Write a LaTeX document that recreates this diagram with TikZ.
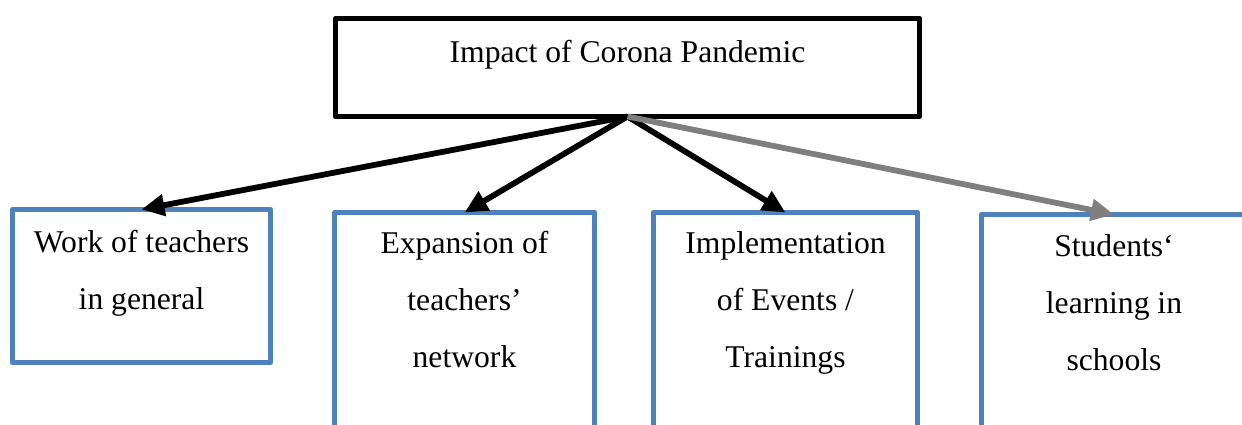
\documentclass[tikz,border=0pt]{standalone}
\usepackage{fontspec}
\setmainfont{Liberation Serif}
\usetikzlibrary{arrows.meta, positioning}
\definecolor{boxblue}{HTML}{4F81BD}
\definecolor{arrgrey}{HTML}{7F7F7F}

\begin{document}
\begin{tikzpicture}[
  box/.style={draw, line width=3.1pt, line join=round, outer sep=0pt, anchor=north west},
  sub/.style={box, draw=boxblue},
  txt/.style={align=center, inner sep=0pt, font=\fontsize{18}{32.4}\selectfont},
  arr/.style={-{Triangle[length=4.6mm, width=4.2mm]}, line width=3.3pt}
]
\useasboundingbox (0,0) rectangle (24.84,-8.48);
\clip (0,0) rectangle (24.84,-8.48);
\node[box, minimum width=11.68cm, minimum height=1.96cm] (impact) at (6.71,-0.37) {};
\node[sub, minimum width=5.16cm, minimum height=3.06cm] (work) at (0.25,-4.19) {};
\node[sub, minimum width=5.2cm, minimum height=4.6cm] (network) at (6.69,-4.25) {};
\node[sub, minimum width=5.28cm, minimum height=4.6cm] (events) at (13.07,-4.25) {};
\node[sub, minimum width=5.3cm, minimum height=4.6cm] (students) at (19.63,-4.29) {};

\node[txt, below=0.07cm of impact.north] (timpact) {\strut Impact of Corona Pandemic};
\node[txt, below=0.06cm of work.north] (twork) {\strut Work of teachers\\in general};
\node[txt, below=0.02cm of network.north] (tnetwork) {\strut Expansion of\\teachers’\\network};
\node[txt, below=0.02cm of events.north] (tevents) {\strut Implementation\\of Events /\\Trainings};
\node[txt, below=0.04cm of students.north] (tstudents) {\strut Students‘\\learning in\\schools};

\draw[arr] (impact.south) -- (work.north);
\draw[arr] (impact.south) -- (network.north);
\draw[arr] (impact.south) -- (events.north);
\draw[arr, draw=arrgrey, fill=arrgrey] (impact.south) -- (students.north);
\end{tikzpicture}
\end{document}
